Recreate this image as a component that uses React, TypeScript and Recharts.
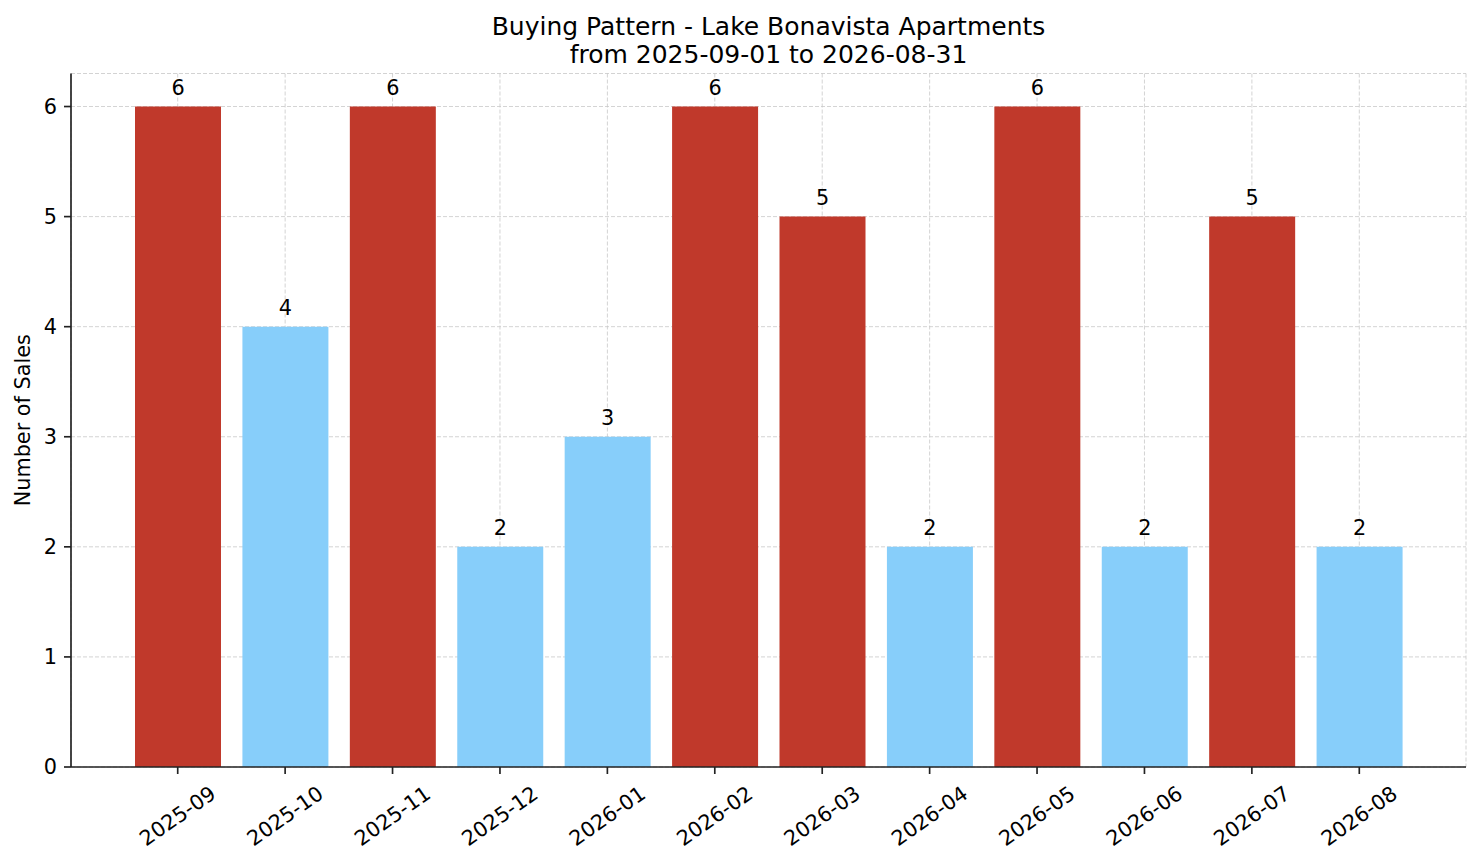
import { BarChart, Bar, XAxis, YAxis, CartesianGrid, Cell, LabelList } from 'recharts'

const months = [
  '2025-09', '2025-10', '2025-11', '2025-12', '2026-01', '2026-02',
  '2026-03', '2026-04', '2026-05', '2026-06', '2026-07', '2026-08',
]
const sales = [6, 4, 6, 2, 3, 6, 5, 2, 6, 2, 5, 2]
const yTicks = [0, 1, 2, 3, 4, 5, 6]

const HIGH = '#c0392b'
const LOW = '#87cefa'
const FONT = '"DejaVu Sans", sans-serif'

const data = months.map((month, i) => ({ month, sales: sales[i] }))

function MonthTick({ x, y, payload }: any) {
  const cy = y + 40
  return (
    <text
      x={x}
      y={cy}
      textAnchor="middle"
      dominantBaseline="central"
      transform={`rotate(-35, ${x}, ${cy})`}
      fontSize={20.8}
      fontFamily={FONT}
      fill="#000"
    >
      {payload.value}
    </text>
  )
}

export default function App() {
  return (
    <div style={{ position: 'absolute', left: 0, top: 0, width: 1481, height: 863, background: '#fff', fontFamily: FONT }}>
      <div
        style={{
          position: 'absolute', left: 71, width: 1395, top: 12.5, textAlign: 'center',
          fontSize: 25, lineHeight: '28px', color: '#000',
        }}
      >
        Buying Pattern - Lake Bonavista Apartments<br />from 2025-09-01 to 2026-08-31
      </div>
      <BarChart
        width={1481}
        height={863}
        data={data}
        margin={{ top: 73.5, right: 15, bottom: 0, left: 0 }}
        barSize={86}
      >
        <XAxis
          dataKey="month"
          height={96}
          padding={{ left: 53, right: 53 }}
          tick={<MonthTick />}
          tickSize={7}
          axisLine={{ stroke: '#222', strokeWidth: 1.67 }}
          tickLine={{ stroke: '#222', strokeWidth: 1.67 }}
          interval={0}
        />
        <YAxis
          width={71}
          domain={[0, 6.3]}
          ticks={yTicks}
          tickSize={7}
          tickMargin={7}
          tick={{ fontSize: 20.8, fontFamily: FONT, fill: '#000' }}
          axisLine={{ stroke: '#222', strokeWidth: 1.67 }}
          tickLine={{ stroke: '#222', strokeWidth: 1.67 }}
          label={{
            value: 'Number of Sales', angle: -90, position: 'insideLeft', offset: 0,
            dx: 23, style: { fontSize: 20.8, fontFamily: FONT, fill: '#000', textAnchor: 'middle' },
          }}
        />
        <Bar dataKey="sales" isAnimationActive={false}>
          {data.map((d) => (
            <Cell key={d.month} fill={d.sales >= 5 ? HIGH : LOW} />
          ))}
          <LabelList
            dataKey="sales"
            position="top"
            offset={12}
            style={{ fontSize: 20.8, fontFamily: FONT, fill: '#000' }}
          />
        </Bar>
        <CartesianGrid stroke="#c8c8c8" strokeOpacity={0.8} strokeWidth={1} strokeDasharray="4 2" />
      </BarChart>
    </div>
  )
}
